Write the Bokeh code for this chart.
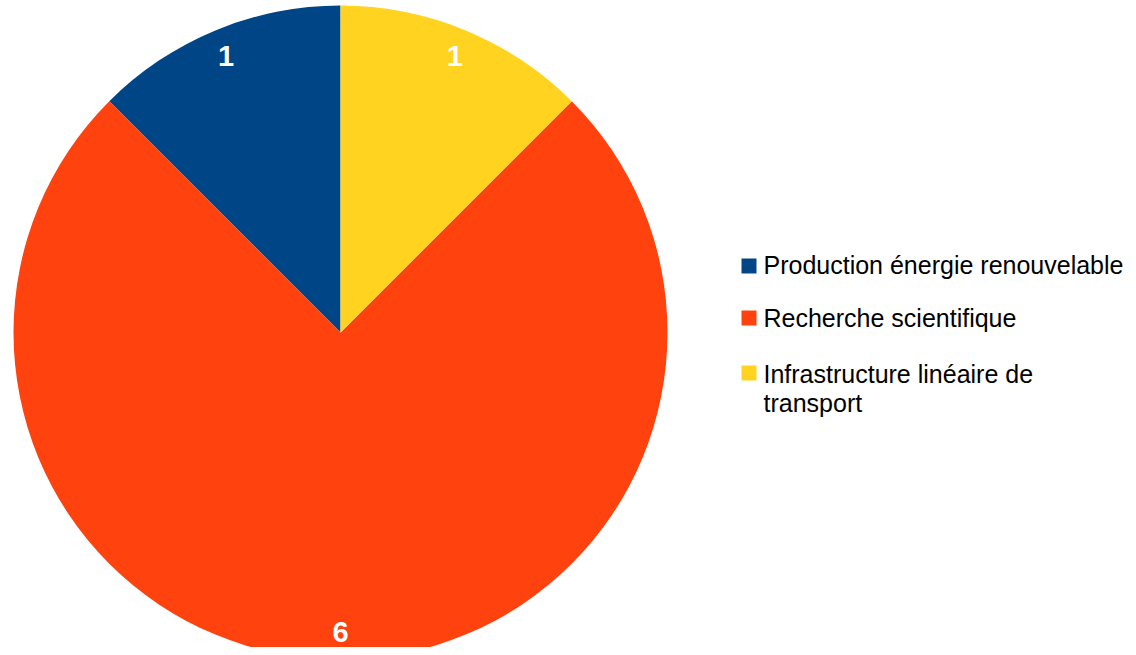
import numpy as np
from bokeh.plotting import figure
from bokeh.models import Range1d, ColumnDataSource
from bokeh.core.properties import value
from bokeh.embed import file_html
from bokeh.resources import INLINE

categories = ["Production énergie renouvelable", "Recherche scientifique", "Infrastructure linéaire de transport"]
values = [1, 6, 1]
colors = ["#004586", "#ff420e", "#ffd320"]
legend_lines = [["Production énergie renouvelable"], ["Recherche scientifique"], ["Infrastructure linéaire de", "transport"]]

W, H = 1128, 647
p = figure(width=W, height=H, output_backend="svg", toolbar_location=None,
           x_range=Range1d(0, W), y_range=Range1d(0, H), min_border=0)
p.axis.visible = False
p.grid.visible = False
p.outline_line_color = None
p.background_fill_color = "white"

def Y(page_y):
    return H - page_y

cx, cy, R = 340, Y(332), 327
vals = np.array(values, dtype=float)
frac = vals / vals.sum()
starts = np.pi / 2 + 2 * np.pi * np.concatenate([[0], np.cumsum(frac)[:-1]])
ends = starts + 2 * np.pi * frac
src = ColumnDataSource(dict(start=starts, end=ends, color=colors,
                            x=[cx] * len(vals), y=[cy] * len(vals)))
p.wedge(x="x", y="y", radius=R, start_angle="start", end_angle="end",
        fill_color="color", line_color=None, source=src)

mids = (starts + ends) / 2
lr = 299
lsrc = ColumnDataSource(dict(x=cx + lr * np.cos(mids), y=cy + lr * np.sin(mids),
                             t=[str(v) for v in values]))
p.text(x="x", y="y", text="t", source=lsrc, text_color="white", text_font=value("Liberation Sans"),
       text_font_style="bold", text_font_size="29px", text_align="center", text_baseline="middle")

# legend
sq_top = [258, 310, 365]
mid = [[264], [317], [373, 402]]
for i, lines in enumerate(legend_lines):
    p.rect(x=748.5, y=Y(sq_top[i] + 7.5), width=15, height=15, fill_color=colors[i], line_color=None)
    for j, line in enumerate(lines):
        p.text(x=[763], y=[Y(mid[i][j])], text=[line], text_color="black",
               text_font=value("Liberation Sans"), text_font_size="25px",
               text_align="left", text_baseline="middle")

open("out.html", "w").write(file_html(p, INLINE))
